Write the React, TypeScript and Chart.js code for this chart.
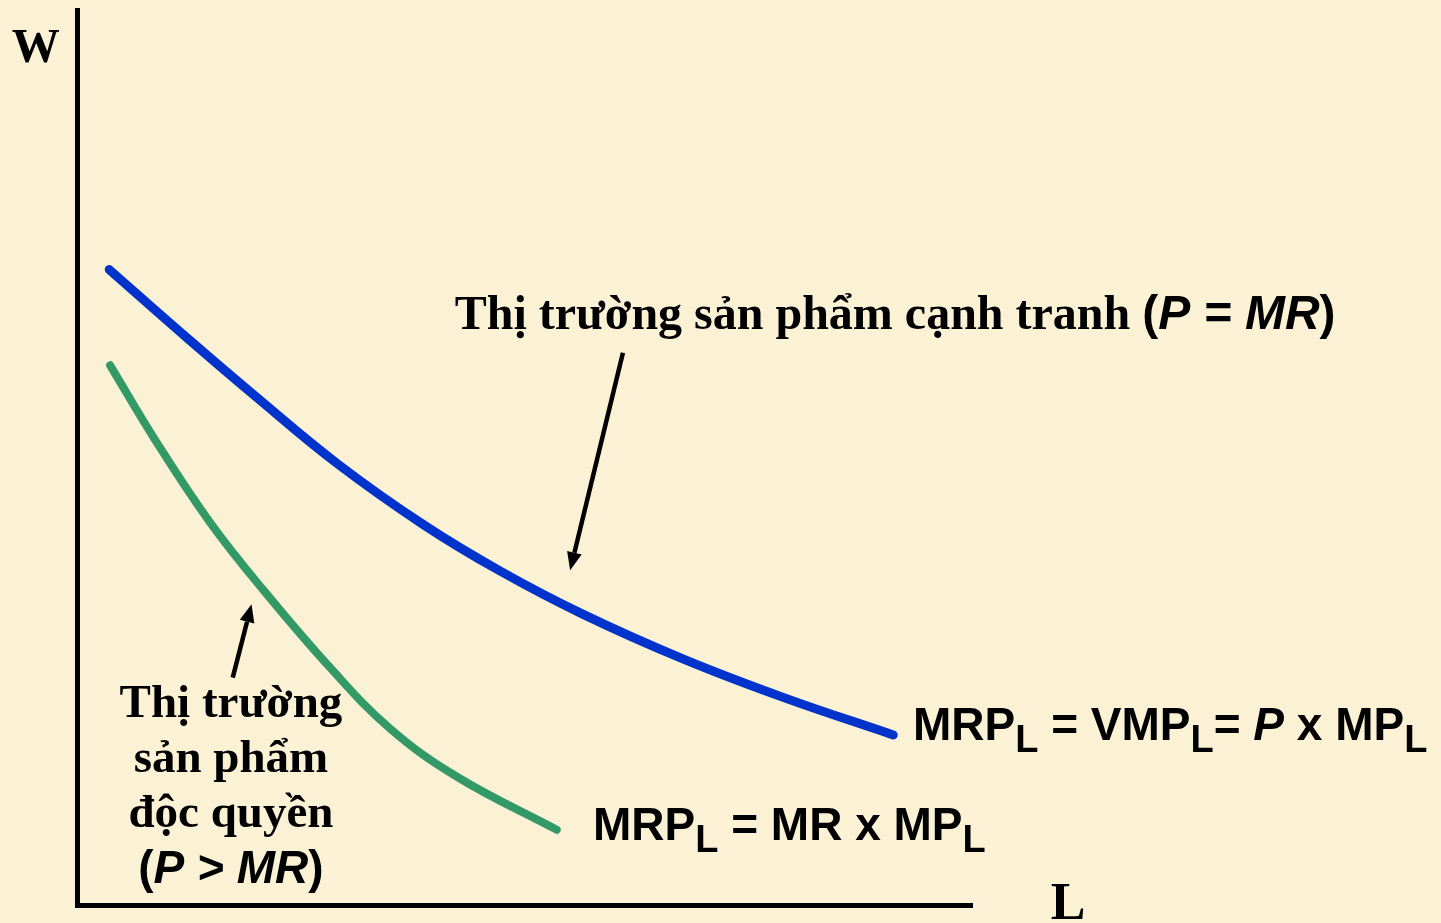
import React, { useEffect, useRef } from "react";
import { Chart, registerables } from "chart.js";

Chart.register(...registerables);

// Labour L (horizontal) and wage W (vertical), both on a 0–100 scale
const blueL = [3.6, 12.6, 20.1, 29.1, 38.7, 47.3, 56.5, 67.7, 78.9, 91.2];
const blueW = [71.0, 63.1, 56.7, 49.3, 42.5, 37.3, 32.5, 27.5, 23.2, 19.0];

const greenL = [3.7, 8.9, 14.9, 20.9, 28.3, 35.0, 42.5, 53.6];
const greenW = [60.3, 51.7, 42.7, 35.1, 26.5, 19.7, 14.3, 8.4];

const axisMin = 0;
const axisMax = 100;

const yAxisLabel = "W";
const xAxisLabel = "L";
const competitiveNote = "Thị trường sản phẩm cạnh tranh ";
const monopolyNote = ["Thị trường", "sản phẩm", "độc quyền"];

// arrow annotations [tailL, tailW, tipL, tipW]
const arrowCompetitive = [61.0, 61.7, 55.1, 37.4];
const arrowMonopoly = [17.4, 25.4, 19.5, 33.6];

const SERIF = '"Liberation Serif", "Times New Roman", serif';
const SANS = '"Liberation Sans", Arial, sans-serif';

type Seg = { t: string; font: string; dy?: number };

function drawRun(ctx: CanvasRenderingContext2D, segs: Seg[], x: number, y: number, align: "left" | "center") {
  const widths = segs.map((s) => {
    ctx.font = s.font;
    return ctx.measureText(s.t).width;
  });
  const total = widths.reduce((a, b) => a + b, 0);
  let cx = align === "center" ? x - total / 2 : x;
  ctx.textAlign = "left";
  ctx.textBaseline = "alphabetic";
  segs.forEach((s, i) => {
    ctx.font = s.font;
    ctx.fillText(s.t, cx, y + (s.dy || 0));
    cx += widths[i];
  });
}

function drawArrow(ctx: CanvasRenderingContext2D, x1: number, y1: number, x2: number, y2: number) {
  const ang = Math.atan2(y2 - y1, x2 - x1);
  const headLen = 18;
  const headW = 7.5;
  const bx = x2 - headLen * Math.cos(ang);
  const by = y2 - headLen * Math.sin(ang);
  ctx.save();
  ctx.strokeStyle = "#000";
  ctx.fillStyle = "#000";
  ctx.lineWidth = 4.5;
  ctx.lineCap = "butt";
  ctx.beginPath();
  ctx.moveTo(x1, y1);
  ctx.lineTo(bx, by);
  ctx.stroke();
  ctx.beginPath();
  ctx.moveTo(x2, y2);
  ctx.lineTo(bx + headW * Math.sin(ang), by - headW * Math.cos(ang));
  ctx.lineTo(bx - headW * Math.sin(ang), by + headW * Math.cos(ang));
  ctx.closePath();
  ctx.fill();
  ctx.restore();
}

const annotationPlugin = {
  id: "econAnnotations",
  afterDraw(chart: any) {
    const ctx: CanvasRenderingContext2D = chart.ctx;
    const xs = chart.scales.x;
    const ys = chart.scales.y;
    const px = (v: number) => xs.getPixelForValue(v);
    const py = (v: number) => ys.getPixelForValue(v);
    ctx.save();
    ctx.fillStyle = "#000";

    // axis letters
    drawRun(ctx, [{ t: yAxisLabel, font: `bold 48px ${SERIF}` }], px(-4.6), py(94.2), "center");
    drawRun(ctx, [{ t: xAxisLabel, font: `bold 52px ${SERIF}` }], px(108.8), py(-1.6), "left");

    // competitive market note
    drawRun(
      ctx,
      [
        { t: competitiveNote, font: `bold 48px ${SERIF}` },
        { t: "(", font: `bold 48px ${SANS}` },
        { t: "P = MR", font: `italic bold 48px ${SANS}` },
        { t: ")", font: `bold 48px ${SANS}` },
      ],
      px(42.2),
      py(64.4),
      "left"
    );

    // curve labels
    const main = `bold 46px ${SANS}`;
    const sub = `bold 38px ${SANS}`;
    drawRun(
      ctx,
      [
        { t: "MRP", font: main },
        { t: "L", font: sub, dy: 12 },
        { t: " = VMP", font: main },
        { t: "L", font: sub, dy: 12 },
        { t: "= ", font: main },
        { t: "P", font: `italic bold 46px ${SANS}` },
        { t: " x MP", font: main },
        { t: "L", font: sub, dy: 12 },
      ],
      px(93.4),
      py(18.4),
      "left"
    );
    drawRun(
      ctx,
      [
        { t: "MRP", font: main },
        { t: "L", font: sub, dy: 12 },
        { t: " = MR x MP", font: main },
        { t: "L", font: sub, dy: 12 },
      ],
      px(57.65),
      py(7.26),
      "left"
    );

    // monopoly note
    const lineW = [21.0, 14.85, 8.7];
    monopolyNote.forEach((line, i) => {
      drawRun(ctx, [{ t: line, font: `bold 47px ${SERIF}` }], px(17.2), py(lineW[i]), "center");
    });
    drawRun(
      ctx,
      [
        { t: "(", font: `bold 46px ${SANS}` },
        { t: "P > MR", font: `italic bold 46px ${SANS}` },
        { t: ")", font: `bold 46px ${SANS}` },
      ],
      px(17.2),
      py(2.5),
      "center"
    );

    // arrows
    drawArrow(ctx, px(arrowCompetitive[0]), py(arrowCompetitive[1]), px(arrowCompetitive[2]), py(arrowCompetitive[3]));
    drawArrow(ctx, px(arrowMonopoly[0]), py(arrowMonopoly[1]), px(arrowMonopoly[2]), py(arrowMonopoly[3]));

    ctx.restore();
  },
};

export default function App() {
  const canvasRef = useRef<HTMLCanvasElement | null>(null);

  useEffect(() => {
    const canvas = canvasRef.current;
    if (!canvas) return;
    const chart = new Chart(canvas, {
      type: "line",
      data: {
        datasets: [
          {
            label: "MRP = VMP",
            data: blueL.map((l, i) => ({ x: l, y: blueW[i] })),
            borderColor: "#0033CC",
            borderWidth: 9,
            borderCapStyle: "round",
            borderJoinStyle: "round",
            pointRadius: 0,
            tension: 0.4,
            fill: false,
          },
          {
            label: "MRP = MR x MP",
            data: greenL.map((l, i) => ({ x: l, y: greenW[i] })),
            borderColor: "#339966",
            borderWidth: 8,
            borderCapStyle: "round",
            borderJoinStyle: "round",
            pointRadius: 0,
            tension: 0.4,
            fill: false,
          },
        ],
      },
      options: {
        responsive: false,
        animation: false,
        events: [],
        layout: { padding: { left: 77, right: 469, top: 10, bottom: 18 } },
        plugins: {
          legend: { display: false },
          tooltip: { enabled: false },
          title: { display: false },
        },
        scales: {
          x: {
            type: "linear",
            min: axisMin,
            max: axisMax,
            grid: { display: false, drawTicks: false },
            ticks: { display: false },
            border: { display: true, color: "#000", width: 5 },
          },
          y: {
            type: "linear",
            min: axisMin,
            max: axisMax,
            grid: { display: false, drawTicks: false },
            ticks: { display: false },
            border: { display: true, color: "#000", width: 5 },
          },
        },
      },
      plugins: [annotationPlugin],
    } as any);
    return () => chart.destroy();
  }, []);

  return (
    <div
      style={{
        position: "fixed",
        left: 0,
        top: 0,
        width: 1441,
        height: 923,
        background: "#FBF2D6",
        overflow: "hidden",
      }}
    >
      <canvas ref={canvasRef} width={1441} height={923} style={{ display: "block" }} />
    </div>
  );
}
